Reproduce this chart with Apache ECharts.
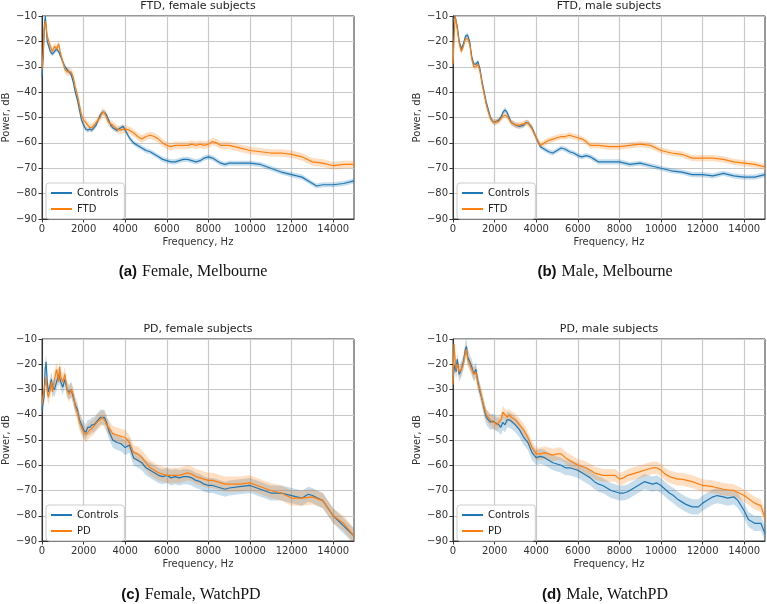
<!DOCTYPE html>
<html>
<head>
<meta charset="utf-8">
<script src="https://cdn.jsdelivr.net/npm/echarts@6/dist/echarts.min.js"></script>
<style>html,body{margin:0;padding:0;background:#fff}#c{width:767px;height:604px}</style>
</head>
<body>
<div id="c"></div>
<script>
// Tick labels
const xTicks = [0, 2000, 4000, 6000, 8000, 10000, 12000, 14000];
const yTicks = [-90, -80, -70, -60, -50, -40, -30, -20, -10];

// Panel (a) FTD, female subjects  [frequency Hz, power dB]
const aControls = [[0,-34],[60,-26],[120,-13],[160,-10],[250,-20],[400,-24],[500,-25],[600,-24],[700,-23],[800,-24],[900,-26],[1000,-28],[1100,-30],[1200,-31],[1300,-32],[1400,-33],[1500,-36],[1600,-40],[1700,-43],[1800,-47],[1900,-51],[2000,-53],[2100,-54.5],[2200,-55],[2300,-54.5],[2400,-55],[2500,-54],[2600,-53],[2700,-51],[2800,-49],[2900,-48],[3000,-48],[3100,-49],[3200,-51],[3300,-53],[3400,-54],[3600,-55],[3800,-54],[3900,-53.5],[4000,-55],[4200,-58],[4400,-60],[4600,-61],[4800,-62],[5000,-63],[5200,-63.5],[5400,-64.5],[5600,-65.5],[5800,-66.5],[6000,-67],[6200,-67.5],[6400,-67.5],[6600,-67],[6800,-66.5],[7000,-66.5],[7200,-67],[7400,-67.5],[7600,-67],[7800,-66],[8000,-65.5],[8200,-66],[8400,-67],[8600,-68],[8800,-68.5],[9000,-68],[9500,-68],[10000,-68],[10500,-68.5],[11000,-70],[11500,-71.5],[12000,-72.5],[12500,-73.5],[13000,-76],[13200,-77],[13500,-76.5],[14000,-76.5],[14500,-76],[15000,-75]];
const aFTD = [[0,-31],[60,-24],[100,-15],[170,-12],[250,-18],[400,-22],[500,-24],[600,-22],[700,-23],[800,-21],[900,-25],[1000,-28],[1100,-31],[1200,-32],[1300,-32],[1400,-32],[1500,-34],[1600,-38],[1700,-41],[1800,-45],[1900,-49],[2000,-51],[2100,-52],[2200,-53],[2300,-54],[2400,-54],[2500,-53],[2600,-52],[2700,-51],[2800,-50],[2900,-48],[3000,-48],[3100,-50],[3200,-52],[3400,-53],[3600,-54.5],[3800,-55],[4000,-54.5],[4200,-55],[4400,-56],[4600,-57.5],[4800,-58.5],[5000,-57.5],[5200,-57],[5400,-57.5],[5600,-58.5],[5800,-60],[6000,-61],[6200,-61.5],[6400,-61],[6600,-61],[6800,-61],[7000,-61],[7200,-60.5],[7400,-61],[7600,-60.5],[7800,-61],[8000,-60.5],[8200,-59.5],[8400,-60],[8600,-61],[9000,-61],[9500,-62],[10000,-63],[10500,-63.5],[11000,-64],[11500,-64],[12000,-64.5],[12500,-65.5],[13000,-67.5],[13500,-68],[14000,-69],[14500,-68.5],[15000,-68.5]];

// Panel (b) FTD, male subjects
const bControls = [[0,-12],[100,-10],[200,-14],[300,-20],[400,-23],[500,-21],[600,-18],[700,-17.5],[800,-20],[900,-26],[1000,-29],[1100,-29],[1200,-28],[1300,-31],[1400,-36],[1500,-40],[1600,-44],[1700,-47],[1800,-50],[1900,-51.5],[2000,-52],[2100,-51.5],[2200,-51],[2300,-50],[2400,-48],[2500,-47],[2600,-48],[2700,-50],[2800,-52],[3000,-53],[3200,-53.5],[3400,-53],[3500,-52],[3600,-52],[3800,-54],[4000,-58],[4200,-61.5],[4400,-62.5],[4600,-63.5],[4800,-64],[5000,-63],[5200,-62],[5400,-62.5],[5600,-63.5],[5800,-64],[6000,-65],[6200,-65.5],[6400,-65],[6600,-65.5],[6800,-66.5],[7000,-67.5],[7500,-67.5],[8000,-67.5],[8500,-68.5],[9000,-68],[9500,-69],[10000,-70],[10500,-71],[11000,-71.5],[11500,-72.5],[12000,-72.5],[12500,-73],[13000,-72],[13500,-73],[14000,-73.5],[14500,-73.5],[15000,-72.5]];
const bFTD = [[0,-29],[100,-10],[200,-15],[300,-21],[400,-24],[500,-22],[600,-19],[700,-19],[800,-21],[900,-27],[1000,-30],[1100,-30],[1200,-29],[1300,-32],[1400,-37],[1500,-41],[1600,-45],[1700,-48],[1800,-50.5],[1900,-51.5],[2000,-52],[2200,-51.5],[2400,-49.5],[2500,-49],[2600,-49.5],[2800,-52],[3000,-53],[3200,-53],[3400,-52.5],[3600,-52],[3800,-54.5],[4000,-58],[4200,-61],[4400,-60],[4600,-59],[4800,-58.5],[5000,-58],[5200,-57.5],[5400,-57.5],[5600,-57],[5800,-57.5],[6000,-58],[6200,-58.5],[6400,-59.5],[6600,-61],[6800,-61],[7000,-61],[7500,-61.5],[8000,-61.5],[8500,-61],[9000,-60.5],[9500,-61],[10000,-63],[10500,-64],[11000,-64.5],[11500,-66],[12000,-66],[12500,-66],[13000,-66.5],[13500,-67.5],[14000,-68],[14500,-68.5],[15000,-69.5]];

// Panel (c) PD, female subjects
const cControls = [[0,-38],[100,-33],[150,-22],[200,-19],[250,-27],[300,-31],[400,-28],[450,-26],[500,-29],[600,-30],[700,-27],[800,-24],[900,-27],[1000,-29],[1100,-26],[1200,-30],[1300,-31],[1400,-30],[1500,-33],[1600,-36],[1700,-38],[1800,-42],[1900,-44],[2000,-46],[2100,-47],[2200,-45],[2300,-45],[2400,-44],[2500,-44],[2600,-43],[2700,-42],[2800,-41],[2900,-41],[3000,-41],[3100,-43],[3200,-46],[3400,-50],[3600,-51],[3800,-51.5],[4000,-53],[4200,-52],[4400,-57],[4600,-58],[4800,-59],[5000,-61],[5200,-62],[5400,-63],[5600,-64],[5800,-64.5],[6000,-64],[6200,-65],[6400,-64.5],[6600,-65],[6800,-64.5],[7000,-64.5],[7200,-65],[7400,-66],[7600,-66.5],[7800,-67.5],[8000,-68],[8200,-68],[8400,-68.5],[8600,-69],[8800,-69.5],[9000,-69],[9500,-68.5],[10000,-68],[10500,-69.5],[11000,-71],[11500,-71],[12000,-72],[12500,-73],[12800,-71.5],[13000,-72],[13500,-74],[14000,-80],[14500,-84],[15000,-88]];
const cPD = [[0,-36],[100,-30],[150,-28],[200,-25],[250,-31],[300,-33],[400,-30],[450,-27],[500,-31],[600,-26],[700,-22],[800,-27],[850,-21],[900,-25],[1000,-27],[1100,-24],[1200,-30],[1300,-32],[1400,-30],[1500,-32],[1600,-37],[1700,-39],[1800,-43],[1900,-45],[2000,-47],[2100,-48],[2200,-47],[2300,-46],[2400,-45.5],[2500,-44.5],[2600,-43.5],[2700,-42.5],[2800,-42],[2900,-41],[3000,-42],[3100,-44],[3200,-45],[3400,-47.5],[3600,-48],[3800,-48.5],[4000,-49],[4200,-51],[4400,-55],[4600,-55.5],[4800,-57],[5000,-59],[5200,-61],[5400,-62],[5600,-63],[5800,-63.5],[6000,-64],[6200,-64],[6400,-64],[6600,-64],[6800,-63.5],[7000,-63],[7200,-63.5],[7400,-64.5],[7600,-65],[7800,-65.5],[8000,-66],[8200,-66],[8400,-66.5],[8600,-67],[8800,-67.5],[9000,-67.5],[9500,-67.5],[10000,-67],[10500,-68.5],[11000,-70],[11500,-71],[12000,-73],[12500,-73],[13000,-72.5],[13500,-74],[14000,-80],[14500,-83],[15000,-88]];

// Panel (d) PD, male subjects
const dControls = [[0,-25],[100,-20],[150,-23],[200,-18],[300,-24],[400,-22],[500,-19],[600,-14],[650,-13],[700,-17],[800,-19],[900,-21],[1000,-24],[1100,-22],[1200,-27],[1300,-31],[1400,-34],[1500,-38],[1600,-41],[1700,-42],[1800,-43],[1900,-42.5],[2000,-43],[2100,-43.5],[2200,-44],[2300,-45],[2400,-43],[2500,-44],[2600,-42],[2700,-42],[2800,-42.5],[3000,-44],[3200,-46],[3400,-49],[3600,-51],[3800,-55],[4000,-57],[4200,-56.5],[4400,-57],[4600,-58],[4800,-59],[5000,-59.5],[5200,-60],[5400,-61],[5600,-61],[5800,-61.5],[6000,-62],[6200,-63],[6400,-64],[6600,-65],[6800,-66.5],[7000,-67.5],[7200,-68],[7400,-69],[7600,-70],[7800,-70.5],[8000,-71],[8200,-71],[8400,-70.5],[8600,-69.5],[8800,-68.5],[9000,-67.5],[9200,-66.5],[9400,-67],[9600,-67.5],[9800,-67],[10000,-68],[10200,-69.5],[10400,-71],[10600,-72],[10800,-73.5],[11000,-74.5],[11200,-75.5],[11500,-76.5],[11800,-76.5],[12000,-75],[12200,-74],[12500,-72.5],[12700,-72],[13000,-72.5],[13200,-73],[13500,-72.5],[13700,-74],[14000,-78],[14200,-81.5],[14500,-83],[14800,-83],[15000,-87]];
const dPD = [[0,-28],[50,-12],[100,-18],[150,-22],[200,-20],[300,-23],[400,-22],[500,-20],[600,-15],[650,-14],[700,-18],[800,-20],[900,-22],[1000,-24],[1100,-23],[1200,-28],[1300,-30],[1400,-34],[1500,-37],[1600,-40],[1700,-41],[1800,-42],[1900,-43],[2000,-43],[2100,-44],[2200,-43],[2300,-42],[2400,-39],[2500,-40],[2600,-41],[2700,-40],[2800,-41],[3000,-42],[3200,-44],[3400,-46],[3600,-49],[3800,-53],[4000,-55.5],[4200,-55.5],[4400,-55],[4600,-55.5],[4800,-56],[5000,-55.5],[5200,-55.5],[5400,-57],[5600,-58],[5800,-59],[6000,-60],[6200,-60.5],[6400,-61],[6600,-62],[6800,-63],[7000,-63.5],[7200,-64],[7400,-64],[7600,-64],[7800,-64],[8000,-65.5],[8200,-65],[8400,-64],[8600,-63.5],[8800,-63],[9000,-62.5],[9200,-62],[9400,-61.5],[9600,-61],[9800,-61],[10000,-62],[10200,-63.5],[10400,-64.5],[10600,-65],[10800,-65.5],[11000,-65.5],[11500,-66.5],[12000,-68],[12500,-68.5],[13000,-69.5],[13500,-70],[14000,-72],[14500,-75],[14800,-76],[15000,-81]];

// Confidence band half-widths (dB)
const aBand = [1.0, 1.5];
const bBand = [1.0, 1.2];
const cBand = [3.0, 3.0];
const dBand = [3.0, 2.5];

const panelTitles = ['FTD, female subjects', 'FTD, male subjects', 'PD, female subjects', 'PD, male subjects'];
const captionTags = ['(a)', '(b)', '(c)', '(d)'];
const captionTexts = ['Female, Melbourne', 'Male, Melbourne', 'Female, WatchPD', 'Male, WatchPD'];
const groupNames = [['Controls', 'FTD'], ['Controls', 'FTD'], ['Controls', 'PD'], ['Controls', 'PD']];

const panels = [
  {ctrl: aControls, dis: aFTD, band: aBand},
  {ctrl: bControls, dis: bFTD, band: bBand},
  {ctrl: cControls, dis: cPD, band: cBand},
  {ctrl: dControls, dis: dPD, band: dBand}
];

const BLUE = '#1f77b4', ORANGE = '#ff7f0e';
const SANS = 'DejaVu Sans';
const layout = [
  {left: 42, top: 16, width: 312, height: 203},
  {left: 453, top: 16, width: 312, height: 203},
  {left: 42, top: 339, width: 312, height: 202},
  {left: 453, top: 339, width: 312, height: 202}
];
const captionPos = [[193, 263], [605, 263], [191, 586], [605, 586]];

const chart = echarts.init(document.getElementById('c'), null, {renderer: 'canvas'});

const grid = [], xAxis = [], yAxis = [], series = [], title = [], legend = [];
panels.forEach((p, i) => {
  const L = layout[i];
  grid.push({left: L.left, top: L.top, width: L.width, height: L.height, show: true,
    borderColor: '#333', borderWidth: 1, backgroundColor: 'transparent', containLabel: false});
  xAxis.push({type: 'value', gridIndex: i, min: 0, max: 15000, interval: 2000,
    name: 'Frequency, Hz', nameLocation: 'middle', nameGap: 18,
    nameTextStyle: {fontFamily: SANS, fontSize: 10, color: '#333'},
    axisLine: {show: true, onZero: false, lineStyle: {color: '#333'}},
    axisTick: {show: true, length: 3.5, lineStyle: {color: '#333'}, customValues: xTicks},
    axisLabel: {fontFamily: SANS, fontSize: 10, color: '#333', margin: 5, customValues: xTicks,
      formatter: v => String(v)},
    splitLine: {show: true, lineStyle: {color: '#c8c8c8', width: 1.2}}
  });
  yAxis.push({type: 'value', gridIndex: i, min: -90, max: -10, interval: 10,
    name: 'Power, dB', nameLocation: 'middle', nameGap: 31, nameRotate: 90,
    nameTextStyle: {fontFamily: SANS, fontSize: 10, color: '#333'},
    axisLine: {show: true, onZero: false, lineStyle: {color: '#333'}},
    axisTick: {show: true, length: 3.5, lineStyle: {color: '#333'}, customValues: yTicks},
    axisLabel: {fontFamily: SANS, fontSize: 10, color: '#333', margin: 5, customValues: yTicks,
      formatter: v => (v < 0 ? '\u2212' + Math.abs(v) : String(v))},
    splitLine: {show: true, lineStyle: {color: '#c8c8c8', width: 1.2}}
  });
  const bandSeries = (pts, hw, color) => ({
    type: 'custom', xAxisIndex: i, yAxisIndex: i, data: [0], silent: true, z: 1, clip: true,
    renderItem: (params, api) => {
      const up = pts.map(q => api.coord([q[0], q[1] + hw]));
      const lo = pts.slice().reverse().map(q => api.coord([q[0], q[1] - hw]));
      return {type: 'polygon', shape: {points: up.concat(lo)}, style: {fill: color, opacity: 0.25}};
    }
  });
  series.push(bandSeries(p.ctrl, p.band[0], BLUE));
  series.push(bandSeries(p.dis, p.band[1], ORANGE));
  series.push({type: 'line', name: groupNames[i][0], xAxisIndex: i, yAxisIndex: i, data: p.ctrl,
    showSymbol: false, symbol: 'none', clip: true, z: 3, lineStyle: {color: BLUE, width: 1.2}, itemStyle: {color: BLUE}});
  series.push({type: 'line', name: groupNames[i][1], xAxisIndex: i, yAxisIndex: i, data: p.dis,
    showSymbol: false, symbol: 'none', clip: true, z: 4, lineStyle: {color: ORANGE, width: 1.2}, itemStyle: {color: ORANGE}});
  title.push({text: panelTitles[i], left: L.left + L.width / 2, top: L.top - 15, textAlign: 'center', padding: 0,
    textStyle: {fontFamily: SANS, fontSize: 11, fontWeight: 'normal', color: '#222'}});
  title.push({text: '{t|' + captionTags[i] + '} {c|' + captionTexts[i] + '}',
    left: captionPos[i][0], top: captionPos[i][1], textAlign: 'center', padding: 0,
    textStyle: {fontWeight: 'normal', rich: {
      t: {fontFamily: 'Liberation Sans', fontWeight: 'bold', fontSize: 15, color: '#111'},
      c: {fontFamily: 'Liberation Serif', fontWeight: 'normal', fontSize: 16, color: '#111'}
    }}});
  legend.push({orient: 'vertical', left: L.left + 4, top: L.top + L.height - 36,
    data: groupNames[i], icon: 'rect', itemWidth: 21, itemHeight: 2, itemGap: 4,
    padding: [4, 6, 4, 5], borderColor: '#cccccc', borderWidth: 1, borderRadius: 3,
    backgroundColor: 'rgba(255,255,255,0.85)', selectedMode: false,
    textStyle: {fontFamily: SANS, fontSize: 10, color: '#222', lineHeight: 12}});
});

chart.setOption({animation: false, backgroundColor: '#fff', grid, xAxis, yAxis, series, title, legend});
</script>
</body>
</html>
